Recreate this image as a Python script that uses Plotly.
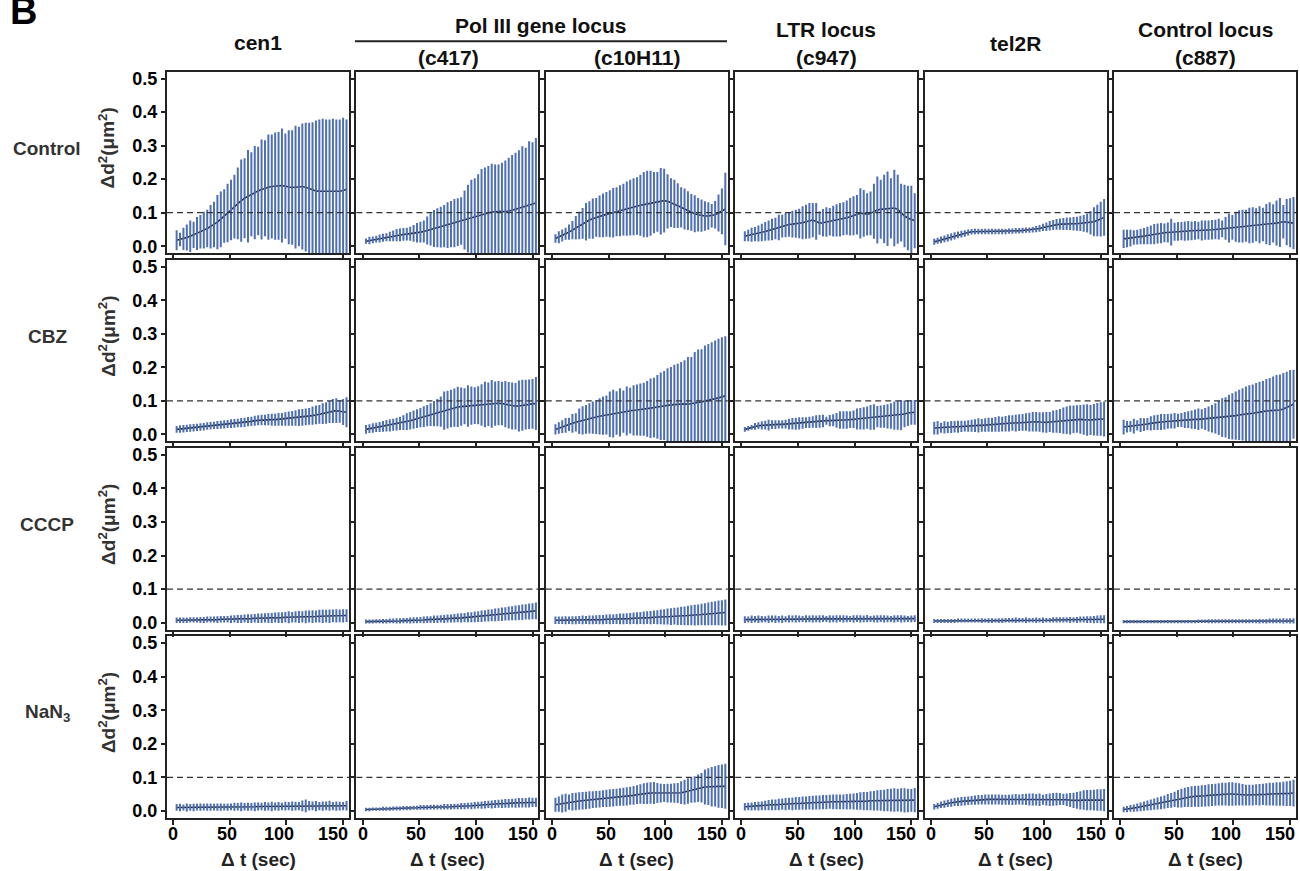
import plotly.graph_objects as go

W, H = 1300, 871

# ---------------- data ----------------
t_sec = [3, 6, 9, 12, 15, 18, 21, 24, 27, 30, 33, 36, 39, 42, 45, 48, 51, 54, 57, 60,
         63, 66, 69, 72, 75, 78, 81, 84, 87, 90, 93, 96, 99, 102, 105, 108, 111, 114, 117, 120,
         123, 126, 129, 132, 135, 138, 141, 144, 147, 150, 153]

row_labels = ["Control", "CBZ", "CCCP", "NaN<sub>3</sub>"]
x_tick_vals = [0, 50, 100, 150]
x_tick_text = ["0", "50", "100", "150"]
y_tick_vals = [0.0, 0.1, 0.2, 0.3, 0.4, 0.5]
y_tick_text = ["0.0", "0.1", "0.2", "0.3", "0.4", "0.5"]
threshold = 0.1

# Control
control_cen1_mean = [.018,.020,.022,.026,.030,.034,.038,.043,.048,.053, .058,.065,.072,.080,.090,.099,.108,.118,.128,.136,
                     .143,.149,.155,.160,.165,.169,.173,.176,.178,.179, .180,.181,.179,.176,.175,.176,.178,.178,.176,.172,
                     .168,.165,.164,.164,.163,.163,.163,.163,.164,.166, .170]
control_cen1_sd = [.027,.017,.030,.036,.044,.036,.046,.047,.052,.053, .062,.065,.078,.080,.077,.084,.087,.092,.104,.120,
                   .116,.135,.122,.136,.129,.146,.140,.154,.152,.157, .158,.167,.154,.167,.168,.180,.175,.185,.189,.193,
                   .199,.207,.211,.213,.212,.212,.214,.212,.211,.214, .205]
control_c417_mean = [.015,.017,.019,.021,.023,.025,.027,.029,.031,.033, .034,.035,.036,.037,.038,.040,.042,.044,.047,.050,
                     .053,.055,.057,.060,.063,.066,.069,.072,.075,.078, .082,.086,.089,.092,.095,.098,.100,.102,.103,.104,
                     .104,.103,.104,.107,.110,.113,.117,.120,.123,.126, .129]
control_c417_sd = [.005,.008,.007,.007,.009,.009,.009,.011,.013,.015, .016,.016,.016,.018,.022,.026,.028,.030,.039,.045,
                   .052,.055,.058,.060,.065,.066,.069,.068,.068,.085, .098,.109,.111,.120,.132,.134,.136,.141,.138,.137,
                   .142,.150,.157,.162,.166,.170,.178,.171,.187,.181, .191]
control_c10h11_mean = [.023,.027,.032,.037,.042,.048,.055,.062,.068,.073, .078,.082,.086,.089,.092,.095,.097,.100,.103,.106,
                       .109,.112,.115,.118,.120,.122,.124,.126,.128,.130, .132,.134,.136,.134,.130,.126,.121,.116,.111,.106,
                       .101,.097,.094,.091,.090,.090,.091,.094,.099,.104, .111]
control_c10h11_sd = [.010,.015,.015,.015,.020,.024,.032,.038,.043,.053, .053,.057,.055,.059,.062,.064,.067,.071,.070,.073,
                     .074,.078,.080,.082,.083,.088,.094,.096,.094,.088, .086,.096,.092,.078,.070,.069,.064,.057,.058,.055,
                     .052,.052,.047,.045,.041,.038,.032,.038,.052,.065, .105]
control_ltr_mean = [.030,.032,.034,.036,.038,.041,.044,.047,.050,.053, .056,.060,.063,.065,.066,.067,.068,.070,.073,.076,
                    .078,.074,.069,.070,.072,.073,.075,.077,.079,.082, .085,.088,.091,.094,.098,.098,.095,.098,.104,.108,
                    .110,.111,.112,.113,.114,.110,.100,.090,.084,.080, .076]
control_ltr_sd = [.012,.014,.018,.018,.021,.023,.025,.027,.029,.029, .035,.031,.033,.034,.037,.039,.041,.046,.048,.050,
                  .048,.052,.032,.038,.041,.038,.043,.045,.047,.046, .048,.053,.055,.056,.072,.067,.060,.062,.079,.097,
                  .085,.099,.108,.087,.111,.100,.083,.090,.093,.097, .079]
control_tel2r_mean = [.013,.016,.019,.022,.025,.028,.031,.034,.036,.038, .041,.043,.044,.044,.044,.044,.044,.044,.044,.044,
                      .044,.044,.045,.045,.046,.046,.047,.048,.048,.049, .051,.053,.056,.058,.061,.063,.065,.066,.066,.067,
                      .067,.067,.067,.068,.068,.069,.070,.073,.077,.081, .086]
control_tel2r_sd = [.006,.006,.007,.007,.008,.008,.008,.007,.007,.007, .006,.005,.005,.005,.005,.005,.005,.005,.005,.005,
                    .005,.005,.005,.005,.005,.005,.005,.005,.005,.005, .006,.007,.008,.010,.011,.012,.013,.014,.015,.016,
                    .016,.017,.018,.020,.022,.025,.032,.040,.044,.049, .052]
control_c887_mean = [.022,.023,.024,.026,.027,.029,.030,.032,.034,.036, .038,.039,.040,.041,.042,.043,.044,.045,.045,.046,
                     .046,.047,.047,.047,.048,.048,.049,.050,.051,.052, .053,.054,.056,.058,.059,.060,.061,.062,.063,.064,
                     .064,.065,.066,.067,.068,.069,.071,.073,.072,.070, .069]
control_c887_sd = [.024,.023,.022,.019,.019,.020,.021,.023,.025,.027, .027,.027,.025,.027,.037,.024,.025,.024,.026,.026,
                   .025,.025,.023,.027,.026,.026,.026,.026,.028,.022, .031,.040,.034,.042,.045,.046,.045,.050,.050,.046,
                   .052,.047,.057,.061,.054,.064,.070,.047,.066,.070, .075]

# CBZ
cbz_cen1_mean = [.015,.016,.017,.018,.019,.020,.021,.022,.023,.025, .026,.027,.028,.029,.030,.031,.032,.033,.034,.035,
                 .036,.038,.039,.041,.042,.043,.043,.044,.044,.044, .045,.045,.046,.047,.048,.049,.050,.051,.052,.054,
                 .056,.058,.060,.062,.064,.067,.070,.071,.069,.067, .066]
cbz_cen1_sd = [.007,.008,.008,.008,.008,.008,.008,.008,.008,.008, .008,.008,.009,.009,.009,.009,.010,.010,.010,.011,
               .011,.011,.011,.012,.012,.013,.013,.014,.015,.015, .016,.016,.017,.018,.019,.020,.022,.022,.022,.022,
               .024,.025,.025,.028,.029,.030,.033,.034,.031,.036, .042]
cbz_c417_mean = [.015,.017,.019,.021,.022,.024,.026,.027,.029,.031, .033,.035,.038,.041,.044,.047,.050,.053,.056,.059,
                 .062,.065,.068,.071,.074,.077,.080,.082,.083,.084, .085,.086,.086,.087,.088,.089,.090,.091,.092,.093,
                 .092,.090,.087,.085,.084,.085,.087,.089,.090,.091, .092]
cbz_c417_sd = [.010,.010,.011,.011,.012,.013,.014,.015,.015,.016, .017,.019,.022,.023,.024,.025,.026,.028,.029,.031,
               .035,.038,.042,.054,.053,.053,.054,.057,.054,.051, .059,.054,.052,.054,.059,.065,.062,.068,.063,.063,
               .062,.066,.066,.067,.066,.073,.073,.071,.071,.071, .076]
cbz_c10h11_mean = [.015,.019,.023,.027,.030,.033,.036,.039,.042,.045, .048,.050,.052,.054,.056,.058,.060,.062,.064,.066,
                   .068,.070,.071,.072,.073,.074,.075,.076,.078,.080, .082,.084,.086,.087,.088,.089,.090,.091,.091,.090,
                   .091,.093,.095,.097,.099,.101,.104,.106,.109,.112, .115]
cbz_c10h11_sd = [.012,.014,.016,.019,.017,.025,.024,.035,.039,.040, .042,.045,.048,.051,.054,.055,.065,.068,.062,.069,
                 .060,.070,.065,.072,.073,.075,.076,.080,.086,.086, .092,.098,.100,.107,.110,.116,.118,.122,.127,.138,
                 .137,.150,.155,.154,.163,.166,.168,.171,.173,.175, .175]
cbz_ltr_mean = [.015,.018,.021,.024,.026,.027,.028,.028,.029,.029, .030,.030,.031,.031,.032,.032,.033,.034,.035,.036,
                .037,.038,.039,.040,.041,.041,.042,.042,.043,.043, .043,.044,.045,.046,.047,.048,.050,.051,.052,.053,
                .053,.054,.054,.055,.056,.057,.058,.061,.064,.066, .066]
cbz_ltr_sd = [.004,.004,.004,.007,.007,.009,.010,.013,.010,.010, .009,.009,.010,.013,.014,.015,.015,.014,.013,.014,
              .014,.016,.016,.016,.009,.014,.015,.019,.023,.023, .023,.022,.023,.028,.029,.030,.030,.034,.035,.029,
              .030,.031,.033,.035,.039,.040,.042,.037,.036,.034, .034]
cbz_tel2r_mean = [.019,.020,.020,.021,.021,.022,.023,.023,.024,.025, .025,.026,.026,.027,.027,.028,.029,.029,.030,.031,
                  .031,.032,.033,.034,.034,.035,.036,.037,.037,.038, .038,.037,.036,.036,.037,.038,.039,.040,.041,.042,
                  .043,.045,.046,.045,.044,.043,.043,.044,.045,.046, .046]
cbz_tel2r_sd = [.016,.017,.012,.015,.014,.015,.014,.015,.014,.013, .014,.015,.016,.018,.016,.017,.018,.018,.019,.020,
                .019,.020,.021,.020,.022,.022,.022,.023,.025,.026, .026,.026,.027,.028,.027,.030,.031,.033,.036,.038,
                .040,.038,.038,.040,.042,.044,.042,.044,.046,.047, .049]
cbz_c887_mean = [.022,.023,.024,.025,.027,.028,.029,.031,.033,.035, .036,.037,.038,.039,.040,.041,.042,.043,.043,.044,
                 .044,.045,.045,.046,.046,.046,.047,.048,.049,.050, .051,.052,.054,.056,.058,.060,.061,.062,.063,.064,
                 .066,.068,.070,.071,.071,.071,.073,.076,.080,.085, .090]
cbz_c887_sd = [.019,.014,.013,.019,.012,.018,.016,.015,.018,.019, .020,.021,.020,.019,.019,.020,.017,.018,.021,.022,
               .024,.026,.029,.026,.030,.034,.038,.042,.048,.055, .057,.063,.066,.069,.072,.075,.079,.082,.083,.086,
               .088,.088,.092,.094,.099,.103,.103,.104,.104,.104, .100]

# CCCP
cccp_cen1_mean = [.007,.007,.007,.007,.008,.008,.008,.008,.008,.009, .009,.009,.009,.010,.010,.010,.010,.011,.011,.011,
                  .012,.012,.012,.013,.013,.013,.014,.014,.014,.015, .015,.015,.016,.016,.016,.017,.017,.017,.017,.018,
                  .018,.018,.019,.019,.019,.019,.020,.020,.020,.020, .021]
cccp_cen1_sd = [.005,.005,.005,.005,.005,.005,.005,.006,.006,.006, .006,.006,.007,.007,.007,.007,.008,.008,.009,.009,
                .009,.010,.010,.010,.011,.011,.011,.012,.012,.012, .013,.013,.013,.015,.013,.014,.015,.014,.016,.015,
                .016,.015,.016,.017,.016,.017,.016,.017,.016,.017, .016]
cccp_c417_mean = [.003,.003,.003,.004,.004,.004,.004,.005,.005,.005, .005,.006,.006,.006,.007,.007,.008,.008,.009,.009,
                  .010,.010,.011,.011,.012,.012,.013,.014,.014,.015, .016,.016,.017,.018,.019,.020,.021,.022,.023,.024,
                  .025,.026,.027,.028,.029,.030,.031,.032,.033,.034, .035]
cccp_c417_sd = [.003,.003,.003,.003,.003,.004,.004,.004,.004,.005, .005,.005,.005,.006,.006,.006,.006,.007,.007,.007,
                .008,.008,.008,.009,.009,.009,.010,.010,.011,.011, .012,.012,.013,.013,.014,.014,.015,.015,.016,.016,
                .017,.017,.018,.018,.019,.019,.020,.020,.021,.021, .022]
cccp_c10h11_mean = [.007,.007,.007,.007,.007,.007,.007,.008,.008,.008, .008,.008,.009,.009,.009,.010,.010,.010,.011,.011,
                    .011,.012,.012,.013,.013,.014,.014,.015,.015,.016, .016,.017,.017,.018,.018,.019,.019,.020,.020,.021,
                    .022,.022,.023,.024,.025,.026,.027,.028,.029,.029, .030]
cccp_c10h11_sd = [.008,.008,.008,.009,.008,.009,.009,.009,.010,.009, .010,.010,.010,.011,.011,.011,.012,.011,.012,.013,
                  .013,.013,.014,.014,.015,.015,.016,.016,.017,.017, .018,.019,.020,.021,.022,.022,.023,.024,.025,.026,
                  .027,.028,.028,.029,.030,.031,.032,.033,.034,.035, .036]
cccp_ltr_mean = [.009,.009,.010,.010,.010,.010,.010,.010,.011,.010, .010,.010,.010,.011,.011,.011,.011,.011,.011,.011,
                 .011,.011,.011,.012,.011,.011,.011,.011,.012,.011, .011,.011,.011,.012,.011,.011,.012,.011,.011,.011,
                 .012,.011,.011,.011,.011,.012,.011,.011,.011,.011, .012]
cccp_ltr_sd = [.007,.006,.008,.007,.008,.007,.006,.008,.007,.008, .007,.008,.006,.008,.007,.008,.007,.006,.008,.007,
               .008,.007,.008,.007,.006,.008,.007,.008,.007,.008, .007,.006,.008,.007,.008,.007,.008,.006,.007,.008,
               .007,.008,.007,.006,.008,.007,.008,.007,.006,.007, .007]
cccp_tel2r_mean = [.005,.005,.005,.005,.005,.005,.005,.006,.006,.006, .006,.006,.006,.006,.006,.006,.006,.006,.006,.006,
                   .006,.007,.007,.007,.007,.007,.007,.007,.007,.007, .007,.007,.007,.007,.007,.008,.008,.008,.008,.008,
                   .008,.008,.008,.009,.009,.009,.009,.009,.010,.010, .010]
cccp_tel2r_sd = [.003,.003,.003,.003,.003,.003,.003,.003,.003,.003, .003,.003,.003,.003,.004,.003,.004,.004,.003,.004,
                 .004,.004,.004,.004,.005,.004,.004,.005,.004,.004, .005,.004,.005,.004,.004,.005,.005,.005,.005,.005,
                 .006,.005,.006,.006,.006,.007,.007,.008,.008,.009, .009]
cccp_c887_mean = [.003,.003,.003,.003,.003,.003,.003,.003,.003,.003, .003,.003,.003,.003,.003,.003,.003,.003,.003,.003,
                  .003,.003,.004,.004,.004,.004,.004,.004,.004,.004, .004,.004,.004,.004,.004,.004,.004,.004,.004,.004,
                  .004,.004,.004,.005,.005,.005,.005,.005,.005,.005, .005]
cccp_c887_sd = [.002,.002,.002,.002,.002,.002,.002,.002,.002,.002, .002,.002,.002,.002,.002,.002,.002,.002,.002,.002,
                .002,.002,.002,.002,.002,.003,.003,.003,.003,.003, .003,.003,.003,.003,.003,.003,.003,.003,.003,.003,
                .004,.003,.004,.004,.004,.004,.004,.005,.004,.005, .005]

# NaN3
nan3_cen1_mean = [.010,.010,.010,.010,.010,.010,.011,.011,.011,.011, .011,.011,.011,.011,.011,.011,.012,.012,.012,.012,
                  .012,.012,.012,.012,.013,.013,.013,.013,.013,.013, .013,.013,.014,.014,.014,.014,.014,.015,.015,.015,
                  .015,.014,.014,.014,.015,.015,.014,.014,.014,.014, .015]
nan3_cen1_sd = [.007,.008,.006,.009,.007,.008,.007,.008,.007,.008, .008,.007,.008,.008,.007,.008,.007,.009,.008,.010,
                .008,.009,.008,.010,.009,.008,.010,.009,.011,.009, .010,.008,.010,.009,.011,.010,.009,.013,.016,.011,
                .010,.012,.009,.011,.010,.012,.009,.011,.010,.009, .011]
nan3_c417_mean = [.004,.004,.005,.005,.005,.006,.006,.006,.007,.007, .007,.008,.008,.008,.009,.009,.010,.010,.010,.011,
                  .011,.011,.011,.012,.012,.012,.013,.013,.014,.014, .015,.015,.016,.017,.017,.018,.019,.019,.020,.021,
                  .021,.022,.022,.023,.023,.024,.024,.024,.025,.025, .025]
nan3_c417_sd = [.002,.002,.002,.002,.002,.003,.003,.003,.003,.003, .003,.003,.003,.003,.003,.003,.004,.004,.004,.004,
                .004,.004,.004,.005,.005,.005,.005,.005,.006,.006, .006,.007,.007,.007,.008,.008,.008,.009,.009,.009,
                .010,.010,.010,.010,.011,.011,.011,.011,.012,.011, .011]
nan3_c10h11_mean = [.018,.020,.022,.024,.026,.027,.028,.029,.030,.031, .032,.033,.034,.035,.036,.037,.038,.039,.040,.041,
                    .042,.043,.045,.046,.048,.050,.051,.052,.053,.053, .053,.053,.053,.053,.053,.053,.053,.054,.056,.059,
                    .062,.064,.067,.069,.071,.072,.072,.073,.073,.073, .073]
nan3_c10h11_sd = [.018,.020,.024,.024,.020,.023,.023,.023,.023,.023, .023,.022,.022,.022,.022,.023,.023,.023,.023,.023,
                  .024,.024,.024,.025,.025,.026,.028,.029,.029,.030, .027,.025,.024,.025,.025,.026,.027,.031,.034,.035,
                  .035,.036,.038,.041,.049,.052,.056,.057,.061,.062, .064]
nan3_ltr_mean = [.012,.013,.013,.014,.014,.015,.016,.017,.018,.018, .019,.020,.020,.021,.021,.022,.022,.023,.023,.024,
                 .024,.025,.025,.026,.026,.027,.027,.027,.027,.027, .027,.028,.028,.028,.029,.029,.029,.030,.030,.031,
                 .031,.031,.032,.032,.032,.032,.032,.031,.031,.031, .032]
nan3_ltr_sd = [.008,.008,.009,.009,.010,.010,.011,.012,.013,.013, .014,.014,.015,.015,.016,.016,.016,.017,.017,.017,
               .018,.018,.018,.018,.018,.018,.019,.019,.019,.019, .020,.020,.021,.022,.023,.024,.024,.025,.026,.027,
               .028,.029,.030,.031,.032,.031,.032,.033,.032,.031, .033]
nan3_tel2r_mean = [.012,.015,.018,.020,.022,.024,.026,.027,.028,.029, .030,.031,.032,.033,.033,.034,.034,.034,.034,.034,
                   .033,.033,.033,.033,.034,.034,.034,.034,.034,.034, .033,.033,.033,.033,.033,.034,.035,.035,.034,.033,
                   .032,.031,.031,.031,.032,.032,.032,.032,.032,.032, .032]
nan3_tel2r_sd = [.005,.006,.007,.008,.008,.009,.009,.010,.010,.010, .010,.010,.011,.011,.011,.012,.012,.012,.012,.012,
                 .012,.012,.012,.013,.013,.012,.013,.014,.015,.015, .014,.016,.012,.014,.016,.016,.016,.015,.014,.016,
                 .018,.020,.022,.024,.026,.027,.027,.028,.029,.029, .030]
nan3_c887_mean = [.004,.005,.007,.008,.010,.012,.014,.016,.018,.020, .022,.024,.026,.029,.031,.034,.036,.038,.040,.041,
                  .042,.043,.043,.044,.045,.046,.047,.048,.049,.050, .050,.050,.050,.050,.049,.048,.047,.047,.047,.048,
                  .048,.049,.049,.050,.050,.050,.050,.051,.051,.052, .053]
nan3_c887_sd = [.005,.006,.007,.008,.009,.010,.011,.012,.013,.014, .015,.016,.017,.018,.019,.020,.023,.025,.026,.027,
                .028,.028,.029,.029,.029,.030,.030,.030,.030,.031, .031,.032,.032,.031,.030,.029,.028,.028,.028,.028,
                .029,.029,.030,.031,.031,.032,.032,.033,.034,.035, .037]

panels = [
    [(control_cen1_mean, control_cen1_sd), (control_c417_mean, control_c417_sd), (control_c10h11_mean, control_c10h11_sd),
     (control_ltr_mean, control_ltr_sd), (control_tel2r_mean, control_tel2r_sd), (control_c887_mean, control_c887_sd)],
    [(cbz_cen1_mean, cbz_cen1_sd), (cbz_c417_mean, cbz_c417_sd), (cbz_c10h11_mean, cbz_c10h11_sd),
     (cbz_ltr_mean, cbz_ltr_sd), (cbz_tel2r_mean, cbz_tel2r_sd), (cbz_c887_mean, cbz_c887_sd)],
    [(cccp_cen1_mean, cccp_cen1_sd), (cccp_c417_mean, cccp_c417_sd), (cccp_c10h11_mean, cccp_c10h11_sd),
     (cccp_ltr_mean, cccp_ltr_sd), (cccp_tel2r_mean, cccp_tel2r_sd), (cccp_c887_mean, cccp_c887_sd)],
    [(nan3_cen1_mean, nan3_cen1_sd), (nan3_c417_mean, nan3_c417_sd), (nan3_c10h11_mean, nan3_c10h11_sd),
     (nan3_ltr_mean, nan3_ltr_sd), (nan3_tel2r_mean, nan3_tel2r_sd), (nan3_c887_mean, nan3_c887_sd)],
]

for row in panels:
    for m, s in row:
        assert len(m) == len(t_sec) and len(s) == len(t_sec), (len(m), len(s))

# ---------------- style ----------------
FONT = "Liberation Sans, Arial, Helvetica, sans-serif"
BAR = "#4f6fb4"
LINE = "#262626"
AX = "#222222"

COL_L0, COL_PITCH, COL_W = 167.0, 189.4, 182.0
ROW_T0, ROW_PITCH, ROW_H = 69.0, 189.5, 183.0
X_LABEL_SHIFT = [0, -3, -7, -10]   # horizontal nudge of bottom tick labels (px)


def px(x):
    return x / W


def py(y):
    return 1 - y / H


fig = go.Figure()
layout = dict(
    width=W, height=H, margin=dict(l=0, r=0, t=0, b=0),
    paper_bgcolor="white", plot_bgcolor="white", showlegend=False,
    font=dict(family=FONT, color="black"),
)
shapes = []
annotations = []

for r in range(4):
    for c in range(6):
        n = r * 6 + c + 1
        xa = "x" if n == 1 else f"x{n}"
        ya = "y" if n == 1 else f"y{n}"
        mean, sd = panels[r][c]
        fig.add_trace(go.Scatter(
            x=t_sec, y=mean, mode="lines", line=dict(color=LINE, width=1.6),
            xaxis=xa, yaxis=ya, hoverinfo="skip"))
        fig.add_trace(go.Scatter(
            x=t_sec, y=mean, mode="markers", marker=dict(size=2, color="rgba(0,0,0,0)"),
            error_y=dict(type="data", array=sd, symmetric=True, color=BAR, thickness=2, width=1),
            xaxis=xa, yaxis=ya))
        left = COL_L0 + COL_PITCH * c
        top = ROW_T0 + ROW_PITCH * r
        layout["xaxis" + ("" if n == 1 else str(n))] = dict(
            domain=[px(left), px(left + COL_W)], anchor=ya, range=[-5.5, 155.2],
            tickvals=x_tick_vals, showticklabels=False, ticks="outside", ticklen=5,
            tickwidth=1.5, tickcolor=AX, showline=True, mirror=True, linecolor=AX, linewidth=2,
            showgrid=False, zeroline=False)
        layout["yaxis" + ("" if n == 1 else str(n))] = dict(
            domain=[py(top + ROW_H), py(top)], anchor=xa, range=[-0.021, 0.521],
            tickvals=y_tick_vals, ticktext=y_tick_text, showticklabels=(c == 0),
            ticks="outside", ticklen=4, tickwidth=1.5, tickcolor=AX,
            showline=True, mirror=True, linecolor=AX, linewidth=2,
            showgrid=False, zeroline=False,
            tickfont=dict(family=FONT, size=18, color="black", weight="bold"))
        shapes.append(dict(type="line", xref=f"{xa} domain", yref=ya, x0=0, x1=1,
                           y0=threshold, y1=threshold,
                           line=dict(color="#333333", width=1.2, dash="6px,4px"), layer="above"))
        if r == 3:
            # bottom-row tick labels, placed at the axis tick values
            for tv, tt, sh in zip(x_tick_vals, x_tick_text, X_LABEL_SHIFT):
                annotations.append(dict(text=f"<b>{tt}</b>", x=tv, xref=xa, y=py(837), yref="paper",
                                        xshift=sh, showarrow=False, xanchor="center", yanchor="middle",
                                        font=dict(family=FONT, size=18, color="black")))

# row labels and y-axis titles
for r, lab in enumerate(row_labels):
    yc = ROW_T0 + ROW_PITCH * r + ROW_H / 2 - 14
    annotations.append(dict(text=f"<b>{lab}</b>", x=px(47), y=py(yc), xref="paper", yref="paper",
                            showarrow=False, xanchor="center", yanchor="middle",
                            font=dict(family=FONT, size=19, color="#333333")))
    annotations.append(dict(text="<b>Δd<sup>2</sup>(μm<sup>2</sup>)</b>", x=px(107), y=py(yc),
                            xref="paper", yref="paper", showarrow=False, textangle=-90,
                            xanchor="center", yanchor="middle",
                            font=dict(family=FONT, size=19, color="#333333")))

# x-axis titles
for c in range(6):
    xc = COL_L0 + COL_PITCH * c + COL_W / 2
    annotations.append(dict(text="<b>Δ t (sec)</b>", x=px(xc), y=py(862), xref="paper", yref="paper",
                            showarrow=False, xanchor="center", yanchor="middle",
                            font=dict(family=FONT, size=19, color="#222222")))

# column titles
col_titles = [
    ("cen1", 258, 40), ("Pol III gene locus", 541, 23), ("(c417)", 448, 55), ("(c10H11)", 637, 55),
    ("LTR locus", 826, 27), ("(c947)", 826, 55), ("tel2R", 1015, 41),
    ("Control locus", 1205, 27), ("(c887)", 1205, 55),
]
for txt, xc, yc in col_titles:
    annotations.append(dict(text=f"<b>{txt}</b>", x=px(xc), y=py(yc), xref="paper", yref="paper",
                            showarrow=False, xanchor="center", yanchor="middle",
                            font=dict(family=FONT, size=21, color="#111111")))
shapes.append(dict(type="line", xref="paper", yref="paper", x0=px(355), x1=px(727),
                   y0=py(38.5), y1=py(38.5), line=dict(color="#222222", width=2)))

# panel letter
annotations.append(dict(text="<b>B</b>", x=px(8), y=py(8), xref="paper", yref="paper",
                        showarrow=False, xanchor="left", yanchor="middle",
                        font=dict(family=FONT, size=38, color="black")))

layout["shapes"] = shapes
layout["annotations"] = annotations
fig.update_layout(**layout)
fig.write_html("out.html")
